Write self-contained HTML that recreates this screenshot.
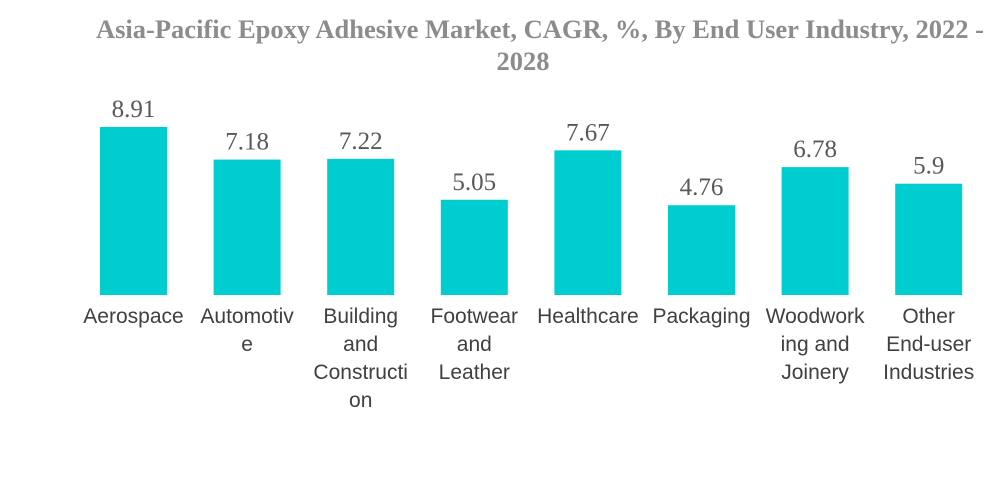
<!DOCTYPE html>
<html><head><meta charset="utf-8"><style>
body{margin:0;background:#fff;width:1000px;height:483px;overflow:hidden}
svg{display:block}
</style></head><body>
<svg id="chart" width="1000" height="483" xmlns="http://www.w3.org/2000/svg">
<text x="540" y="38" text-anchor="middle" font-family="Liberation Serif, serif" font-weight="bold" font-size="26.5" fill="#8c8c8c">Asia-Pacific Epoxy Adhesive Market, CAGR, %, By End User Industry, 2022 -</text>
<text x="523" y="70" text-anchor="middle" font-family="Liberation Serif, serif" font-weight="bold" font-size="26.5" fill="#8c8c8c">2028</text>
<g id="bars"></g>
</svg>
<script>
const categories=[["Aerospace"],["Automotiv","e"],["Building","and","Constructi","on"],["Footwear","and","Leather"],["Healthcare"],["Packaging"],["Woodwork","ing and","Joinery"],["Other","End-user","Industries"]];
const values=[8.91,7.18,7.22,5.05,7.67,4.76,6.78,5.9];
const labels=["8.91","7.18","7.22","5.05","7.67","4.76","6.78","5.9"];
const NS="http://www.w3.org/2000/svg";
const g=document.getElementById('bars');
const base=295, scale=18.86, x0=133.5, step=113.6, bw=67;
const xs=i=>x0+i*step, ys=v=>base-v*scale;
values.forEach((v,i)=>{
 const r=document.createElementNS(NS,'rect');
 
 
 r.setAttribute('x',xs(i)-bw/2);r.setAttribute('y',ys(v));
 r.setAttribute('width',bw);r.setAttribute('height',base-ys(v));
 r.setAttribute('fill','#00cdd0');g.appendChild(r);
 const t=document.createElementNS(NS,'text');
 
 
 t.setAttribute('x',xs(i));t.setAttribute('y',ys(v)-10);
 t.setAttribute('text-anchor','middle');t.setAttribute('font-family','Liberation Serif, serif');
 t.setAttribute('font-size','25');t.setAttribute('fill','#595959');
 t.textContent=labels[i];g.appendChild(t);
 categories[i].forEach((ln,j)=>{
  const c=document.createElementNS(NS,'text');
  
  
  c.setAttribute('x',xs(i));c.setAttribute('y',323+j*28);
  c.setAttribute('text-anchor','middle');c.setAttribute('font-family','Liberation Sans, sans-serif');
  c.setAttribute('font-size','21');c.setAttribute('fill','#404040');
  c.textContent=ln;g.appendChild(c);
 });
});
</script>
</body></html>
